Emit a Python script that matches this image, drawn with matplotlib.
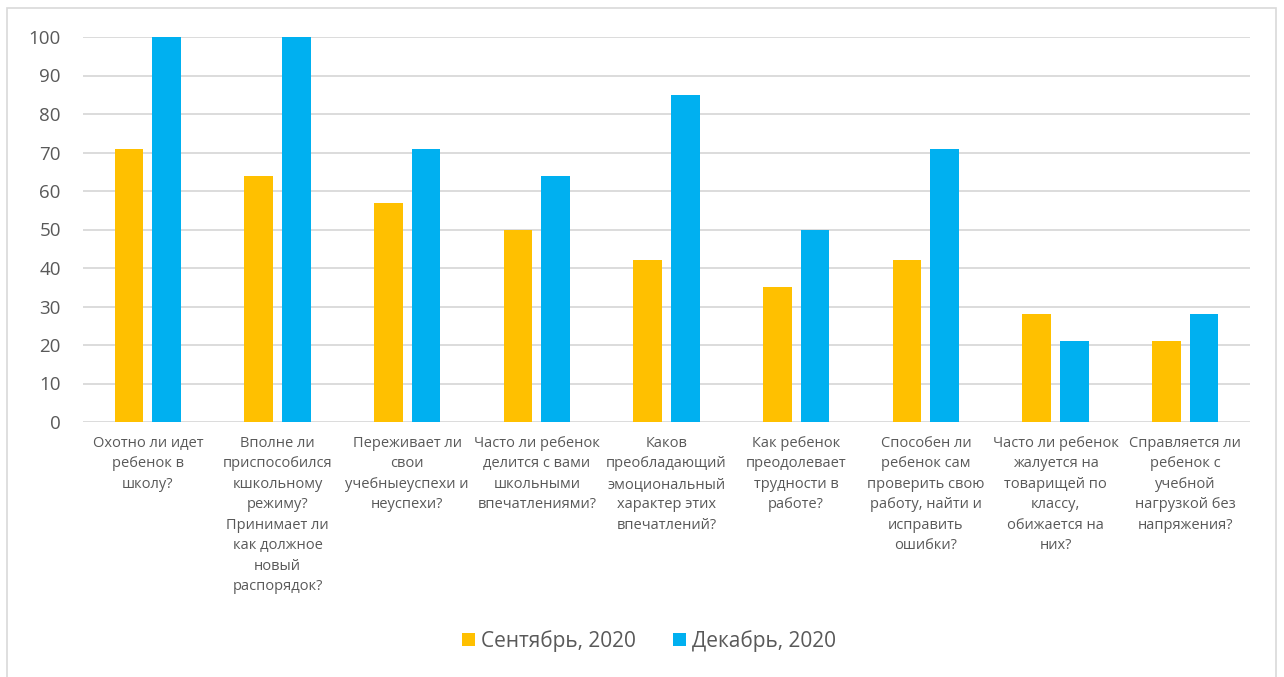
import numpy as np
import matplotlib.pyplot as plt
from matplotlib.patches import Rectangle

plt.rcParams['font.family'] = ['Open Sans', 'DejaVu Sans']

categories = [
    "Охотно ли идет\nребенок в\nшколу?",
    "Вполне ли\nприспособился\nкшкольному\nрежиму?\nПринимает ли\nкак должное\nновый\nраспорядок?",
    "Переживает ли\nсвои\nучебныеуспехи и\nнеуспехи?",
    "Часто ли ребенок\nделится с вами\nшкольными\nвпечатлениями?",
    "Каков\nпреобладающий\nэмоциональный\nхарактер этих\nвпечатлений?",
    "Как ребенок\nпреодолевает\nтрудности в\nработе?",
    "Способен ли\nребенок сам\nпроверить свою\nработу, найти и\nисправить\nошибки?",
    "Часто ли ребенок\nжалуется на\nтоварищей по\nклассу,\nобижается на\nних?",
    "Справляется ли\nребенок с\nучебной\nнагрузкой без\nнапряжения?",
]
september = [71, 64, 57, 50, 42, 35, 42, 28, 21]
december = [100, 100, 71, 64, 85, 50, 71, 21, 28]
series_names = ["Сентябрь, 2020", "Декабрь, 2020"]
yticks = list(range(0, 101, 10))

text_col = '#595959'
grid_col = '#d9d9d9'

fig = plt.figure(figsize=(12.84, 6.77), dpi=100)
# outer chart frame
fig.patches.append(Rectangle((7 / 1284, -0.05), 1269 / 1284, 1 - 8 / 677 + 0.05,
                             transform=fig.transFigure, fill=False,
                             edgecolor=grid_col, linewidth=1.2))

ax = fig.add_axes([83 / 1284, 1 - 422 / 677, (1250 - 83) / 1284, (422 - 37) / 677])

x = np.arange(len(categories))
w = 0.223
b1 = ax.bar(x - 0.145, september, width=w, color='#FFC000', zorder=3, label=series_names[0])
b2 = ax.bar(x + 0.145, december, width=w, color='#00B0F0', zorder=3, label=series_names[1])

ax.set_xlim(-0.5, len(categories) - 0.5)
ax.set_ylim(0, 100)
ax.set_yticks(yticks)
ax.yaxis.grid(True, color=grid_col, linewidth=1.3, zorder=0)
ax.set_axisbelow(True)
for s in ax.spines.values():
    s.set_visible(False)

ax.set_xticks(x)
ax.set_xticklabels(categories, fontsize=10.5, color=text_col, linespacing=1.5, va='top')
ax.tick_params(axis='x', length=0, pad=10)
ax.tick_params(axis='y', length=0, pad=16, labelsize=13.5, labelcolor=text_col)

fig.legend(handles=[b1, b2], labels=series_names, loc='center',
           bbox_to_anchor=(649 / 1284, 1 - 641 / 677), ncol=2, frameon=False,
           fontsize=15, labelcolor=text_col, handlelength=0.6, handleheight=0.6,
           handletextpad=0.3, columnspacing=1.8)

fig.savefig('out.png', dpi=100)
